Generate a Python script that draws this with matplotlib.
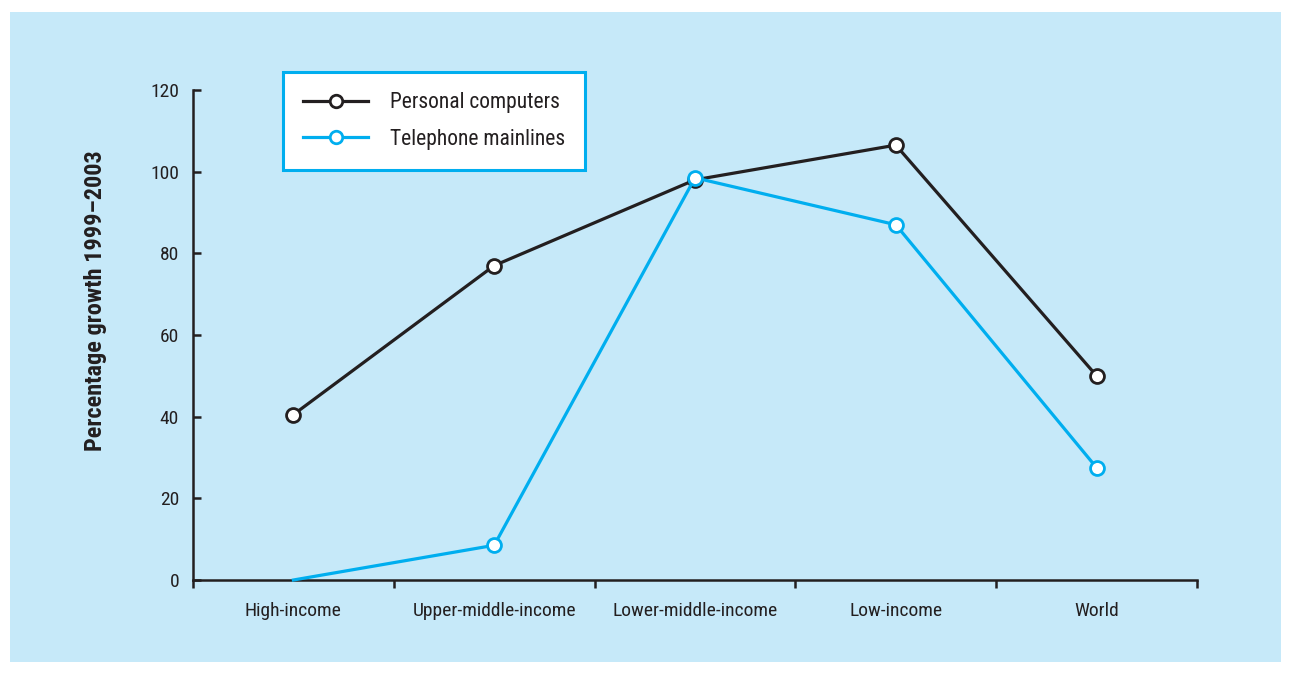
import matplotlib.pyplot as plt
from matplotlib import font_manager
from matplotlib.patches import Rectangle

# growth of ICT access by income group, 1999-2003
groups = ['High-income', 'Upper-middle-income', 'Lower-middle-income', 'Low-income', 'World']
computers = [40.5, 77, 98, 106.5, 50]
mainlines = [0, 8.5, 98.5, 87, 27.5]
yticks = [0, 20, 40, 60, 80, 100, 120]

installed = {f.name for f in font_manager.fontManager.ttflist}
narrow = [f for f in ['Liberation Sans Narrow', 'Roboto Condensed', 'DejaVu Sans Condensed',
                      'Open Sans Condensed'] if f in installed]
plt.rcParams['font.family'] = narrow + ['DejaVu Sans']

fig = plt.figure(figsize=(12.91, 6.74), dpi=100)
fig.patch.set_facecolor('white')
fig.patches.append(Rectangle((10 / 1291, 12 / 674), 1271 / 1291, 650 / 674,
                             transform=fig.transFigure, facecolor='#c6e9f9',
                             edgecolor='none', zorder=-10))

ax = fig.add_axes([193 / 1291, 94 / 674, 1004 / 1291, 490 / 674])
ax.set_facecolor('none')

x = list(range(len(groups)))
black = '#231f20'
blue = '#00aeef'
ax.plot(x, computers, color=black, lw=2.3, marker='o', ms=10,
        mfc='white', mec=black, mew=2, label='Personal computers',
        zorder=3, clip_on=False)
ax.plot(x, mainlines, color=blue, lw=2.3, marker='o', ms=10,
        mfc='white', mec=blue, mew=2, markevery=[1, 2, 3, 4],
        label='Telephone mainlines', zorder=3, clip_on=False)

ax.set_xlim(-0.5, len(groups) - 0.5)
ax.set_ylim(0, 120)

ax.spines['top'].set_visible(False)
ax.spines['right'].set_visible(False)
for s in ('left', 'bottom'):
    ax.spines[s].set_color(black)
    ax.spines[s].set_linewidth(1.8)

ax.set_yticks(yticks)
ax.tick_params(axis='y', direction='in', length=6, width=1.8, color=black,
               labelsize=14, labelcolor=black, pad=10)

# boundary ticks between groups, labels centred on each group
ax.set_xticks([i - 0.5 for i in range(len(groups) + 1)])
ax.set_xticklabels([])
ax.set_xticks(x, minor=True)
ax.set_xticklabels(groups, minor=True)
ax.tick_params(axis='x', which='major', direction='out', length=6,
               width=1.8, color=black)
ax.tick_params(axis='x', which='minor', length=0, labelsize=14,
               labelcolor=black, pad=16)

ax.set_ylabel('Percentage growth 1999\u20132003', fontsize=17.5,
              fontweight='bold', color=black)
ax.yaxis.set_label_coords(-0.086, 0.57)

leg = ax.legend(loc='upper left', bbox_to_anchor=(0.0896, 1.0367),
                borderaxespad=0, fontsize=15.5, frameon=True, fancybox=False,
                framealpha=1, handlelength=3.0, handletextpad=1.0,
                borderpad=0.95, labelspacing=0.7, labelcolor=black)
leg.get_frame().set_edgecolor(blue)
leg.get_frame().set_linewidth(2.2)
leg.get_frame().set_facecolor('white')
for h in leg.legend_handles:
    h.set_markersize(9)

fig.savefig('out.png', dpi=100, facecolor=fig.get_facecolor())
